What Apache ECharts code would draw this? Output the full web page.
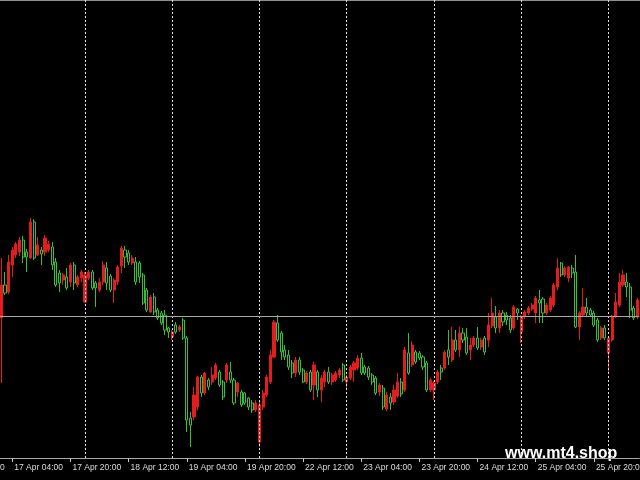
<!DOCTYPE html>
<html><head><meta charset="utf-8">
<script src="https://cdn.jsdelivr.net/npm/echarts@6/dist/echarts.min.js"></script>
<style>html,body{margin:0;padding:0;background:#000;}#c{width:640px;height:480px;}</style>
</head><body><div id="c"></div>
<script>
// Trading days shown (hourly bars); the last day is cut after 09 bars
const days = ['17 Apr','18 Apr','19 Apr','22 Apr','23 Apr','24 Apr','25 Apr','26 Apr'];
const barsLastDay = 9;
const hiddenLeftLabel = '16 Apr 12:00';
// OHLC in price points (hourly candles)
const opens = [196,140,173,166,193,203,206,218,206,200,236,203,208,206,208,211,196,185,178,181,176,193,173,180,156,180,186,175,168,176,190,182,168,176,192,208,205,195,196,195,183,168,146,161,148,145,143,130,121,133,128,138,120,40,41,51,81,65,78,76,80,86,76,78,86,78,66,66,65,60,55,48,16,51,63,76,101,135,125,108,103,95,85,98,88,76,86,73,86,68,76,86,76,78,83,93,76,80,88,90,100,91,90,83,80,66,70,49,61,56,62,76,68,105,93,106,105,101,95,68,68,76,90,90,108,98,118,108,125,121,108,113,120,111,120,118,132,141,130,145,143,140,130,149,126,141,145,149,145,158,159,145,148,153,171,195,183,180,190,186,131,143,151,148,145,138,120,130,105,118,141,153,173,176,171,150,141];
const closes = [173,173,165,196,208,214,218,201,201,236,200,213,204,220,214,193,173,175,183,170,193,175,181,186,183,186,170,170,176,193,175,168,178,191,210,201,196,200,176,181,155,148,161,146,140,135,128,126,126,126,131,120,38,33,63,81,65,85,71,83,93,73,61,93,78,55,75,53,55,51,48,55,53,65,81,103,136,118,106,101,91,85,98,86,76,85,68,93,68,80,86,76,83,85,88,78,81,91,95,100,85,85,81,76,65,73,51,63,55,68,76,64,108,85,113,96,100,91,68,78,75,86,86,106,101,118,108,125,118,105,113,120,110,118,106,133,145,130,145,136,138,128,151,145,141,146,150,153,160,155,145,153,160,173,190,183,190,191,185,131,145,151,145,143,133,118,130,120,120,141,156,176,183,171,148,140,158];
const lows = [170,75,163,164,181,200,202,195,186,199,198,202,193,202,206,188,171,166,173,168,171,168,171,176,155,178,168,151,166,173,168,166,155,173,185,190,193,193,173,175,153,146,145,143,138,133,123,120,118,124,126,118,26,11,38,48,61,63,68,73,78,71,58,75,75,53,61,51,53,48,45,46,11,48,61,74,100,116,98,98,88,80,81,83,75,74,66,58,61,56,71,74,73,76,80,76,70,78,76,88,83,83,78,73,63,62,48,47,48,53,60,61,66,83,91,94,98,88,66,66,58,74,78,88,93,96,106,101,115,103,98,111,108,108,103,111,130,125,125,132,133,125,128,138,115,139,143,147,135,135,135,143,146,151,168,181,181,176,180,130,118,141,141,141,131,116,118,118,86,116,140,151,171,161,140,138,139];
const highs = [200,200,186,203,211,216,221,222,209,240,239,221,211,223,217,216,200,188,185,190,195,196,183,188,186,188,188,177,180,197,196,184,180,193,212,212,208,203,201,197,185,170,163,165,150,147,148,131,128,136,133,140,122,46,71,82,83,86,80,91,95,88,78,95,96,80,76,68,66,61,58,58,58,68,83,108,138,143,127,113,108,98,101,101,90,87,88,96,88,83,88,91,85,87,90,95,83,93,97,103,105,93,92,85,82,75,73,66,65,73,85,80,111,125,117,108,107,103,97,80,77,88,93,108,128,131,128,131,130,130,120,122,131,120,122,145,160,152,148,148,146,143,153,150,143,148,152,155,162,168,161,155,162,175,200,196,192,192,193,203,147,170,160,150,147,140,132,133,122,143,165,185,188,185,175,152,160];
const priceLine = 142;

const categories = [];
days.forEach((d, k) => {
  const n = k === days.length - 1 ? barsLastDay : 24;
  for (let h = 0; h < n; h++) categories.push(d + ' ' + String(h).padStart(2, '0') + ':00');
});
const candles = opens.map((o, i) => [o, closes[i], lows[i], highs[i]]);
const midnightLines = days.slice(1).map(d => ({ xAxis: d + ' 00:00' }));
const labelEvery = (idx) => idx >= 4 && (idx - 4) % 16 === 0;

const chart = echarts.init(document.getElementById('c'), null, { renderer: 'canvas' });
chart.setOption({
  backgroundColor: '#000000',
  animation: false,
  grid: { left: -4.07, right: 0.67, top: 0, bottom: 22, containLabel: false, outerBoundsMode: 'none' },
  xAxis: {
    type: 'category', data: categories, boundaryGap: true,
    axisLine: { show: true, lineStyle: { color: '#a8a8a8', width: 1 } },
    axisTick: { show: true, interval: labelEvery, alignWithLabel: true, length: 4, lineStyle: { color: '#c8c8c8' } },
    axisLabel: { show: true, interval: labelEvery, color: '#dcdcdc', fontSize: 8.5, fontFamily: 'Liberation Sans', align: 'left', margin: 5, padding: [0, 0, 0, 2], hideOverlap: false },
    splitLine: { show: false }
  },
  yAxis: { type: 'value', min: 0, max: 458, show: false, splitLine: { show: false } },
  series: [{
    type: 'candlestick', data: candles, barWidth: 2.6, large: false,
    itemStyle: { color: '#e41c1c', color0: '#000000', borderColor: '#e41c1c', borderColor0: '#34c234', borderWidth: 1 },
    markLine: {
      silent: true, symbol: ['none', 'none'], label: { show: false }, animation: false,
      data: [
        ...midnightLines.map(m => Object.assign({}, m, { lineStyle: { color: '#e0e0e0', type: [2, 2], width: 1 } })),
        { yAxis: priceLine, lineStyle: { color: '#a8a8a8', type: 'solid', width: 1 } }
      ]
    }
  }],
  graphic: [
    { type: 'line', shape: { x1: 0, y1: 0.5, x2: 640, y2: 0.5 }, style: { stroke: '#909090', lineWidth: 1 } },
    { type: 'text', left: -44, top: 463, style: { text: hiddenLeftLabel, fill: '#dcdcdc', font: '8.5px "Liberation Sans"' } },
    { type: 'rect', shape: { x: 497, y: 445, width: 143, height: 35 }, style: { fill: 'rgba(0,0,0,0.7)' } },
    { type: 'text', left: 505, top: 446, style: { text: 'www.mt4.shop', fill: '#ffffff', font: 'bold 16px "Liberation Sans"' } }
  ]
});
</script></body></html>
